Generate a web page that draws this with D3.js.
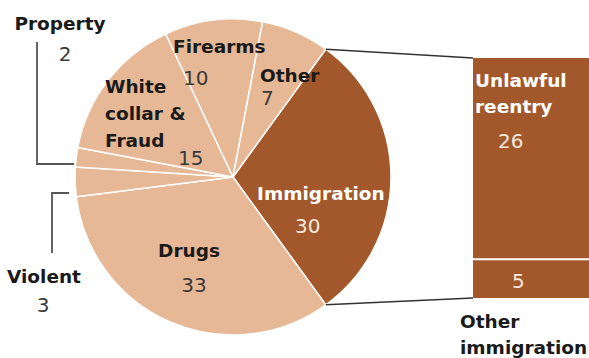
<!DOCTYPE html>
<html>
<head>
<meta charset="utf-8">
<script src="https://cdn.jsdelivr.net/npm/d3@7"></script>
<style>
  body { margin: 0; background: #fff; }
  svg { display: block; }
  .lbl { font-family: "DejaVu Sans", sans-serif; font-weight: bold; font-size: 18.5px; fill: #1a1a1a; }
  .num { font-family: "DejaVu Sans", sans-serif; font-size: 20px; fill: #3a3a3a; }
  .lbl.light { fill: #fff; }
  .num.light { fill: #f6eadf; }
</style>
</head>
<body>
<svg id="chart"></svg>
<script>
// offense categories, share of federal arrests (%)
const categories = ["Immigration", "Drugs", "Violent", "Property", "White collar & Fraud", "Firearms", "Other"];
const values = [30, 33, 3, 2, 15, 10, 7];

// breakdown of immigration
const subCategories = ["Unlawful reentry", "Other immigration"];
const subValues = [26, 5];

const width = 589, height = 358;
const cx = 233, cy = 177, radius = 158;
const light = "#e7b896", dark = "#a2582a";

const svg = d3.select("#chart")
  .attr("width", width)
  .attr("height", height);

// immigration slice centered on 3 o'clock
const total = d3.sum(values);
const start = Math.PI / 2 - Math.PI * values[0] / total;

const pie = d3.pie()
  .sort(null)
  .value(d => d)
  .startAngle(start)
  .endAngle(start + 2 * Math.PI);

const arcs = pie(values);
const arc = d3.arc().innerRadius(0).outerRadius(radius);

const g = svg.append("g")
  .attr("transform", "translate(" + cx + "," + cy + ")");

g.selectAll("path")
  .data(arcs)
  .enter()
  .append("path")
  .attr("d", arc)
  .attr("fill", (d, i) => i === 0 ? dark : light)
  .attr("stroke", "#fff")
  .attr("stroke-width", 1.5)
  .attr("stroke-linejoin", "round");

// bar for the immigration breakdown
const barX0 = 473, barX1 = 589;
const y = d3.scaleLinear()
  .domain([0, d3.sum(subValues)])
  .range([58, 298]);

const stacked = [];
let acc = 0;
subValues.forEach((v, i) => { stacked.push({ name: subCategories[i], y0: acc, y1: acc + v, value: v }); acc += v; });

svg.selectAll("rect.sub")
  .data(stacked)
  .enter()
  .append("rect")
  .attr("class", "sub")
  .attr("x", barX0)
  .attr("width", barX1 - barX0)
  .attr("y", d => y(d.y0))
  .attr("height", d => y(d.y1) - y(d.y0))
  .attr("fill", dark)
  .attr("stroke", "#fff")
  .attr("stroke-width", 0);

// white divider between the two bar segments
svg.append("line")
  .attr("x1", barX0).attr("x2", barX1)
  .attr("y1", y(subValues[0])).attr("y2", y(subValues[0]))
  .attr("stroke", "#fff").attr("stroke-width", 2);

// connector lines from immigration slice to bar
const edgePoint = a => [cx + radius * Math.sin(a), cy - radius * Math.cos(a)];
const pTop = edgePoint(arcs[0].startAngle);
const pBot = edgePoint(arcs[0].endAngle);

svg.append("line")
  .attr("x1", pTop[0]).attr("y1", pTop[1])
  .attr("x2", barX0).attr("y2", y(0))
  .attr("stroke", "#333").attr("stroke-width", 1.5);
svg.append("line")
  .attr("x1", pBot[0]).attr("y1", pBot[1])
  .attr("x2", barX0).attr("y2", y(d3.sum(subValues)))
  .attr("stroke", "#333").attr("stroke-width", 1.5);

// leader brackets for the thin slices
const bracket = d3.line();
svg.append("path")
  .attr("d", bracket([[37, 42], [37, 164], [74, 164]]))
  .attr("fill", "none").attr("stroke", "#555").attr("stroke-width", 1.8);
svg.append("path")
  .attr("d", bracket([[52, 253], [52, 193], [69, 193]]))
  .attr("fill", "none").attr("stroke", "#555").attr("stroke-width", 1.8);

// label layout: lines of name, then the value
const labelLayout = [
  { key: "Immigration", lines: ["Immigration"], x: 257, y: 200, nx: 295, ny: 233, anchor: "start", cls: "light" },
  { key: "Drugs", lines: ["Drugs"], x: 189, y: 257, nx: 194, ny: 292, anchor: "middle", cls: "" },
  { key: "Violent", lines: ["Violent"], x: 44, y: 283, nx: 43, ny: 312, anchor: "middle", cls: "" },
  { key: "Property", lines: ["Property"], x: 60, y: 30, nx: 65, ny: 61, anchor: "middle", cls: "" },
  { key: "White collar & Fraud", lines: ["White", "collar &", "Fraud"], x: 105, y: 93, nx: 178, ny: 165, anchor: "start", cls: "" },
  { key: "Firearms", lines: ["Firearms"], x: 173, y: 53, nx: 183, ny: 85, anchor: "start", cls: "" },
  { key: "Other", lines: ["Other"], x: 260, y: 82, nx: 261, ny: 105, anchor: "start", cls: "" }
];

labelLayout.forEach(l => {
  const val = values[categories.indexOf(l.key)];
  const t = svg.append("text")
    .attr("class", "lbl " + l.cls)
    .attr("x", l.x).attr("y", l.y)
    .attr("text-anchor", l.anchor);
  l.lines.forEach((s, i) => {
    t.append("tspan").attr("x", l.x).attr("dy", i === 0 ? 0 : 27).text(s);
  });
  svg.append("text")
    .attr("class", "num " + l.cls)
    .attr("x", l.nx).attr("y", l.ny)
    .attr("text-anchor", l.anchor)
    .text(val);
});

// bar labels
const sub = svg.append("text").attr("class", "lbl light").attr("x", 475).attr("y", 87);
sub.append("tspan").attr("x", 475).text("Unlawful");
sub.append("tspan").attr("x", 475).attr("dy", 26).text("reentry");
svg.append("text").attr("class", "num light").attr("x", 498).attr("y", 148).text(subValues[0]);
svg.append("text").attr("class", "num light").attr("x", 512).attr("y", 288).text(subValues[1]);

const oth = svg.append("text").attr("class", "lbl").attr("x", 460).attr("y", 328);
oth.append("tspan").attr("x", 460).text("Other");
oth.append("tspan").attr("x", 460).attr("dy", 26).text("immigration");
</script>
</body>
</html>
